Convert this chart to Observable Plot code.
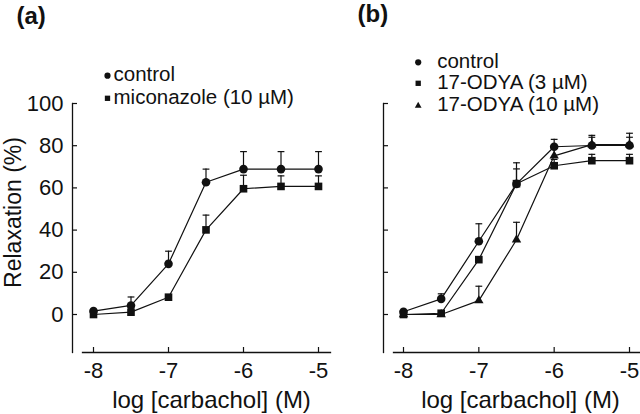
<!DOCTYPE html>
<html><head><meta charset="utf-8">
<script src="https://cdn.jsdelivr.net/npm/d3@7"></script>
<script src="https://cdn.jsdelivr.net/npm/@observablehq/plot@0.6"></script>
<style>
html,body{margin:0;padding:0;background:#fff;}
#wrap{position:relative;width:640px;height:414px;overflow:hidden;background:#fff;}
#wrap svg{position:absolute;top:0;}
</style></head><body><div id="wrap"></div>
<script>
// ---- data ----
const logConc = [-8, -7.5, -7, -6.5, -6, -5.5, -5];
const xTicks = [-8, -7, -6, -5];
const yTicks = [0, 20, 40, 60, 80, 100];

// panel (a)
const aControlMean = [1.6, 4.3, 24, 62.7, 68.9, 68.9, 68.9];
const aControlSem  = [0, 4, 6, 6.2, 8.3, 8.3, 8.3];
const aMicoMean    = [0, 1.1, 8.2, 40.1, 59.6, 60.7, 60.7];
const aMicoSem     = [0, 0, 0, 7, 6.4, 5, 5];

// panel (b)
const bControlMean = [1.3, 7.4, 34.7, 61.9, 79.5, 80.1, 80.1];
const bControlSem  = [0, 2.4, 8.3, 10, 3.5, 4.8, 5.8];
const bOdya3Mean   = [0, 0.6, 26, 62, 70.5, 72.9, 72.9];
const bOdya3Sem    = [0, 0, 0, 7, 3, 3, 3];
const bOdya10Mean  = [0, 0, 6.6, 35.4, 75.2, 80.5, 80.5];
const bOdya10Sem   = [0, 0, 6.8, 8.3, 3.5, 3.5, 3.5];

const aLegend = ["control", "miconazole (10 µM)"];
const bLegend = ["control", "17-ODYA (3 µM)", "17-ODYA (10 µM)"];
const panelTitles = ["(a)", "(b)"];
const xLabel = "log [carbachol] (M)";
const yLabel = "Relaxation (%)";

// ---- helpers ----
const FONT = "'Liberation Sans', Arial, Helvetica, sans-serif";
const rowsOf = (mean, sem) => logConc.map((x, i) => ({x, y: mean[i], sem: sem[i]}));
const capSymbol = {draw(ctx, size) { const w = Math.sqrt(size / Math.PI); ctx.moveTo(-w, 0); ctx.lineTo(w, 0); }};
const symSize = {circle: 4.3, square: 4.3, triangle: 3.5};
const legSize = {circle: 3.1, square: 3.0, triangle: 2.5};

const H = 414, MT = 103, MB = 62;

function panel(cfg) {
  const {width, left, ml, mr, xRange, series, legend, title, showYText} = cfg;
  const at = (px, py) => ({frameAnchor: "top-left", dx: px - ml, dy: py - MT, lineAnchor: "middle"});
  const marks = [
    Plot.frame({anchor: "left", stroke: "#111", strokeWidth: 1.3}),
    Plot.frame({anchor: "bottom", insetLeft: 10, stroke: "#111", strokeWidth: 1.3}),
    Plot.axisY(yTicks, {tickSize: -5, tickPadding: 14, strokeWidth: 1.2,
      tickFormat: showYText ? (d => String(d)) : (() => ""), fontSize: 22, label: null}),
    Plot.axisX(xTicks, {tickSize: -5, tickPadding: 15, strokeWidth: 1.2,
      tickFormat: d => String(d), fontSize: 22, label: null})
  ];
  for (const s of series) {
    const rows = rowsOf(s.mean, s.sem);
    marks.push(Plot.line(rows, {x: "x", y: "y", stroke: "#111", strokeWidth: 1.2}));
  }
  for (const s of series) {
    const rows = rowsOf(s.mean, s.sem).filter(d => d.sem > 0);
    marks.push(Plot.ruleX(rows, {x: "x", y1: "y", y2: d => d.y + d.sem, stroke: "#111", strokeWidth: 1.2}));
    marks.push(Plot.dot(rows, {x: "x", y: d => d.y + d.sem, symbol: capSymbol, r: 3.4, stroke: "#111", strokeWidth: 1.2, fill: "none"}));
  }
  for (const s of series) {
    const rows = rowsOf(s.mean, s.sem);
    marks.push(Plot.dot(rows, {x: "x", y: "y", symbol: s.symbol, r: symSize[s.symbol], fill: "#111", stroke: "none"}));
  }
  // legend
  legend.forEach((name, i) => {
    const s = series[i];
    marks.push(Plot.dot([name], {...at(cfg.legX, cfg.legY[i] - 5.5), symbol: s.symbol, r: legSize[s.symbol], fill: "#111", stroke: "none"}));
    marks.push(Plot.text([name], {...at(cfg.legTextX, cfg.legY[i] - 6.6), text: d => d, textAnchor: "start", fontSize: 20.5, fill: "#111"}));
  });
  // title
  marks.push(Plot.text([title], {...at(cfg.titleX, cfg.titleBase - 7.7), text: d => d, textAnchor: "start", fontSize: 24, fontWeight: "bold", fill: "#111"}));
  // x label
  marks.push(Plot.text([xLabel], {...at(cfg.xLabelX, 408 - 7.7), text: d => d, textAnchor: "middle", fontSize: 24, fill: "#111"}));
  if (showYText) {
    marks.push(Plot.text([yLabel], {...at(13, 212), text: d => d, textAnchor: "middle", rotate: -90, fontSize: 23, fill: "#111"}));
  }
  const svg = Plot.plot({
    width, height: H,
    marginLeft: ml, marginRight: mr, marginTop: MT, marginBottom: MB,
    x: {domain: [-8, -5], range: xRange},
    y: {domain: [0, 100], range: [314, 103]},
    style: {fontFamily: FONT, color: "#111", background: "transparent", overflow: "visible"},
    marks
  });
  svg.style.left = left + "px";
  return svg;
}

const wrap = document.getElementById("wrap");
wrap.appendChild(panel({
  width: 340, left: 0, ml: 72, mr: 10, xRange: [93, 318],
  series: [
    {mean: aControlMean, sem: aControlSem, symbol: "circle"},
    {mean: aMicoMean, sem: aMicoSem, symbol: "square"}
  ],
  legend: aLegend, legX: 107, legTextX: 113, legY: [80.7, 103.3],
  title: panelTitles[0], titleX: 16, titleBase: 23.5, xLabelX: 211, showYText: true
}));
wrap.appendChild(panel({
  width: 300, left: 340, ml: 43, mr: 0, xRange: [63, 289],
  series: [
    {mean: bControlMean, sem: bControlSem, symbol: "circle"},
    {mean: bOdya3Mean, sem: bOdya3Sem, symbol: "square"},
    {mean: bOdya10Mean, sem: bOdya10Sem, symbol: "triangle"}
  ],
  legend: bLegend, legX: 77.7, legTextX: 96.7, legY: [67.3, 88.3, 110.7],
  title: panelTitles[1], titleX: 17, titleBase: 22, xLabelX: 180, showYText: false
}));
</script></body></html>
